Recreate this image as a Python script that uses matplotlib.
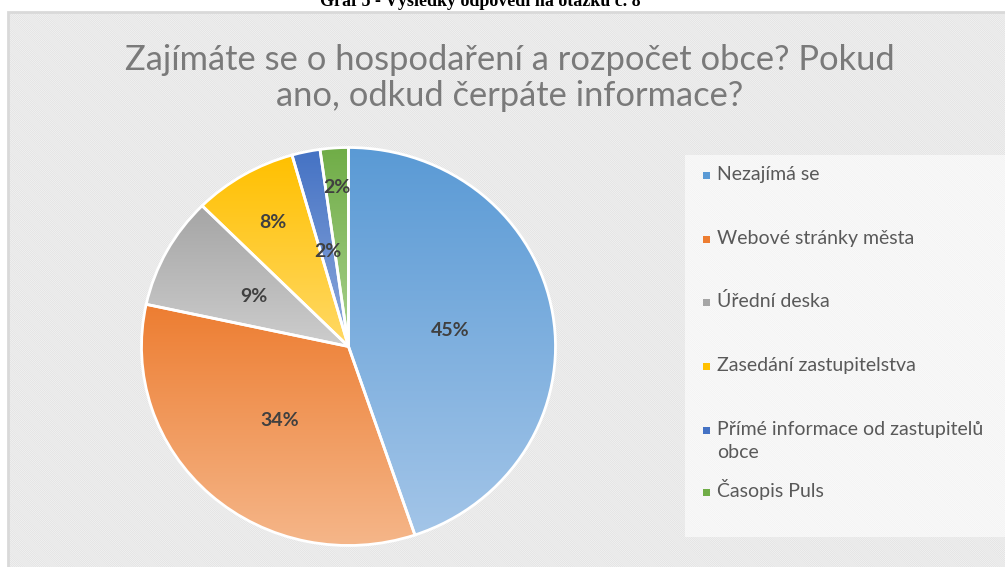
import numpy as np
import matplotlib
matplotlib.use("Agg")
import matplotlib.pyplot as plt
from matplotlib.patches import Rectangle
from matplotlib.colors import to_rgb

categories = ['Nezajímá se', 'Webové stránky města', 'Úřední deska',
              'Zasedání zastupitelstva', 'Přímé informace od zastupitelů\nobce',
              'Časopis Puls']
shares = [44.8, 33.6, 9.1, 8.1, 2.2, 2.2]
top_colors = ['#5a9ad5', '#ed7d31', '#a5a5a5', '#ffc000', '#4472c4', '#70ad47']
bottom_colors = ['#a3c5e8', '#f5b689', '#cdcdcd', '#ffd966', '#8faadc', '#a9d18e']

title = 'Zajímáte se o hospodaření a rozpočet obce? Pokud\nano, odkud čerpáte informace?'
caption = 'Graf 5 - Výsledky odpovědí na otázku č. 8'

# layout
label_radius = [0.50, 0.50, 0.52, 0.72, 0.49, 0.80]
legend_rows = [175, 239, 302, 366, 430, 492]   # px from top

plt.rcParams['font.family'] = ['Lato', 'DejaVu Sans']
plt.rcParams['hatch.linewidth'] = 0.8

W, H = 1005, 567
fig = plt.figure(figsize=(W / 100, H / 100), dpi=100)

def fx(px):
    return px / W

def fy(py):
    return 1 - py / H

# chart area background with diagonal hatch
bg = Rectangle((fx(8), -0.05), 1.1, (H - 12) / H + 0.05, transform=fig.transFigure,
               facecolor='white', edgecolor='#e4e4e4', hatch='\\' * 16, linewidth=0, zorder=0)
fig.patches.append(bg)
border = Rectangle((fx(8), -0.05), 1.1, (H - 12) / H + 0.05, transform=fig.transFigure,
                   facecolor='none', edgecolor='#d9d9d9', linewidth=2, zorder=1)
fig.patches.append(border)

fig.text(fx(480), fy(6), caption, ha='center', va='baseline', fontsize=13,
         fontweight='bold', family='Liberation Serif', color='black')
fig.text(fx(510), fy(78), title, ha='center', va='center', fontsize=24.8,
         color='#7a7a7a', linespacing=1.18)

# pie axes: center (348.5, 346.5) px, radii 207 x 199 px (picture is stretched a bit)
cx, cy, rx, ry = 348.5, 346.5, 207, 199
hx, hy = 212, 204
ax = fig.add_axes([fx(cx - hx), fy(cy + hy), 2 * hx / W, 2 * hy / H])
ax.set_axis_off()
ax.set_zorder(5)

wedges, _ = ax.pie(shares, startangle=90, counterclock=False, radius=1,
                   colors=top_colors, wedgeprops=dict(edgecolor='white', linewidth=2))

for w, c0, c1, lr, v in zip(wedges, top_colors, bottom_colors, label_radius, shares):
    ext = w.get_path().get_extents()
    grad = np.linspace(0, 1, 256)[:, None, None]
    img = (1 - grad) * np.array(to_rgb(c0)) + grad * np.array(to_rgb(c1))
    im = ax.imshow(img, extent=[ext.x0, ext.x1, ext.y0, ext.y1], origin='upper',
                   aspect='auto', zorder=1)
    im.set_clip_path(w)
    w.set_facecolor('none')
    w.set_zorder(2)
    mid = np.deg2rad((w.theta1 + w.theta2) / 2)
    ax.text(lr * np.cos(mid), lr * np.sin(mid), f'{v:.0f}%', ha='center', va='center',
            fontsize=14, fontweight='bold', color='#404040', zorder=3)

ax.set_aspect('auto')
ax.set_xlim(-hx / rx, hx / rx)
ax.set_ylim(-hy / ry, hy / ry)

# legend drawn as in the office chart: fixed slots, long label wraps
box = Rectangle((fx(685), fy(537)), fx(1005) - fx(685), fy(155) - fy(537),
                transform=fig.transFigure, facecolor='white', alpha=0.6,
                edgecolor='none', zorder=6)
fig.patches.append(box)
for lab, c, row in zip(categories, top_colors, legend_rows):
    fig.patches.append(Rectangle((fx(702.5), fy(row + 3.5)), 7 / W, 7 / H,
                                 transform=fig.transFigure, facecolor=c,
                                 edgecolor='none', zorder=7))
    for i, line in enumerate(lab.split('\n')):
        fig.text(fx(717), fy(row + 5 + 23 * i), line, ha='left', va='baseline',
                 fontsize=14, color='#595959', zorder=7)

fig.savefig('out.png', dpi=100)
